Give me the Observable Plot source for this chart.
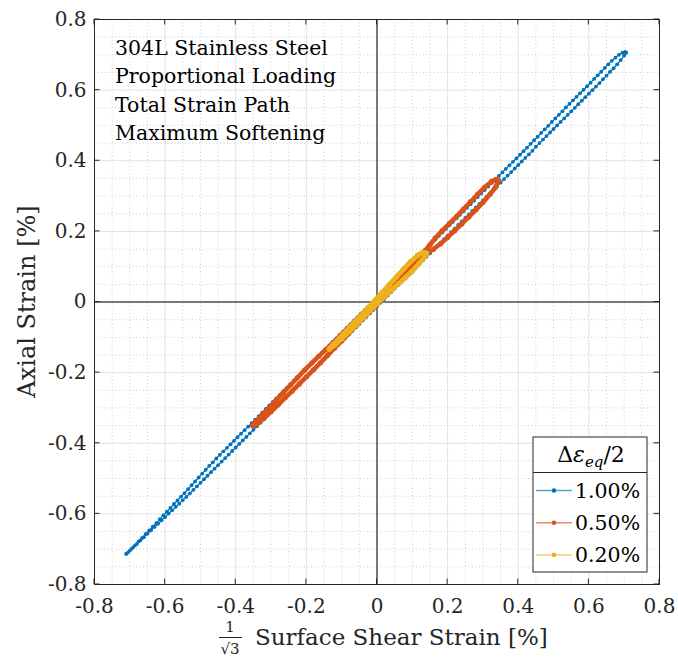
<!DOCTYPE html>
<html><head><meta charset="utf-8">
<script src="https://cdn.jsdelivr.net/npm/d3@7"></script>
<script src="https://cdn.jsdelivr.net/npm/@observablehq/plot@0.6"></script>
<style>body{margin:0;background:#fff} svg{display:block}</style>
</head><body><div id="chart"></div>
<script>
// ---- data ----
const seriesLabels = ["1.00%", "0.50%", "0.20%"];
const seriesColors = ["#0072BD", "#D95319", "#EDB120"];

// Δε_eq/2 = 1.00 %  : [shear/√3 %, axial %]
const blueLoading = [[-0.71,-0.713],[-0.70,-0.704],[-0.69,-0.694],[-0.68,-0.685],[-0.67,-0.675],[-0.66,-0.666],[-0.65,-0.656],[-0.64,-0.647],[-0.63,-0.637],[-0.62,-0.628],[-0.61,-0.618],[-0.60,-0.609],[-0.59,-0.599],[-0.58,-0.590],[-0.57,-0.580],[-0.56,-0.571],[-0.55,-0.561],[-0.54,-0.552],[-0.53,-0.542],[-0.52,-0.532],[-0.51,-0.522],
[-0.50,-0.512],[-0.49,-0.502],[-0.48,-0.492],[-0.47,-0.482],[-0.46,-0.472],[-0.45,-0.462],[-0.44,-0.452],[-0.43,-0.442],[-0.42,-0.432],[-0.41,-0.422],
[-0.40,-0.412],[-0.39,-0.402],[-0.38,-0.392],[-0.37,-0.382],[-0.36,-0.372],[-0.35,-0.362],[-0.34,-0.352],[-0.33,-0.342],[-0.32,-0.332],[-0.31,-0.322],
[-0.30,-0.312],[-0.29,-0.302],[-0.28,-0.292],[-0.27,-0.282],[-0.26,-0.272],[-0.25,-0.262],[-0.24,-0.252],[-0.23,-0.242],[-0.22,-0.232],[-0.21,-0.222],
[-0.20,-0.212],[-0.19,-0.202],[-0.18,-0.192],[-0.17,-0.182],[-0.16,-0.172],[-0.15,-0.162],[-0.14,-0.152],[-0.13,-0.142],[-0.12,-0.132],[-0.11,-0.122],
[-0.10,-0.112],[-0.09,-0.102],[-0.08,-0.092],[-0.07,-0.082],[-0.06,-0.072],[-0.05,-0.062],[-0.04,-0.052],[-0.03,-0.042],[-0.02,-0.032],[-0.01,-0.022],
[0.00,-0.012],[0.01,-0.002],[0.02,0.008],[0.03,0.018],[0.04,0.028],[0.05,0.038],[0.06,0.048],[0.07,0.058],[0.08,0.068],[0.09,0.078],
[0.10,0.088],[0.11,0.098],[0.12,0.108],[0.13,0.118],[0.14,0.128],[0.15,0.138],[0.16,0.148],[0.17,0.158],[0.18,0.168],[0.19,0.178],
[0.20,0.188],[0.21,0.198],[0.22,0.208],[0.23,0.218],[0.24,0.228],[0.25,0.238],[0.26,0.248],[0.27,0.258],[0.28,0.268],[0.29,0.278],
[0.30,0.288],[0.31,0.298],[0.32,0.308],[0.33,0.318],[0.34,0.328],[0.35,0.338],[0.36,0.348],[0.37,0.358],[0.38,0.368],[0.39,0.378],
[0.40,0.388],[0.41,0.398],[0.42,0.408],[0.43,0.418],[0.44,0.428],[0.45,0.440],[0.46,0.450],[0.47,0.460],[0.48,0.470],[0.49,0.480],
[0.50,0.490],[0.51,0.500],[0.52,0.510],[0.53,0.520],[0.54,0.530],[0.55,0.540],[0.56,0.550],[0.57,0.560],[0.58,0.570],[0.59,0.580],
[0.60,0.590],[0.61,0.600],[0.62,0.610],[0.63,0.620],[0.64,0.631],[0.65,0.641],[0.66,0.652],[0.67,0.662],[0.68,0.673],[0.69,0.685],
[0.70,0.698],[0.706,0.706]];
const blueUnloading = [[0.703,0.708],[0.695,0.706],[0.685,0.700],[0.675,0.692],[0.665,0.683],[0.655,0.673],[0.645,0.663],[0.635,0.652],[0.625,0.642],[0.615,0.632],
[0.605,0.621],[0.595,0.611],[0.585,0.601],[0.575,0.591],[0.565,0.581],[0.555,0.571],[0.545,0.561],[0.535,0.551],[0.525,0.540],[0.515,0.530],
[0.505,0.520],[0.495,0.510],[0.485,0.499],[0.475,0.489],[0.465,0.479],[0.455,0.468],[0.445,0.458],[0.435,0.448],[0.425,0.437],[0.415,0.427],
[0.405,0.417],[0.395,0.407],[0.385,0.397],[0.375,0.387],[0.365,0.377],[0.355,0.367],[0.345,0.357],[0.335,0.347],[0.325,0.337],[0.315,0.327],
[0.305,0.317],[0.295,0.307],[0.285,0.297],[0.275,0.287],[0.265,0.277],[0.255,0.267],[0.245,0.257],[0.235,0.247],[0.225,0.237],[0.215,0.227],
[0.205,0.217],[0.195,0.207],[0.185,0.197],[0.175,0.187],[0.165,0.177],[0.155,0.167],[0.145,0.157],[0.135,0.147],[0.125,0.137],[0.115,0.127],
[0.105,0.117],[0.095,0.107],[0.085,0.097],[0.075,0.087],[0.065,0.077],[0.055,0.067],[0.045,0.057],[0.035,0.047],[0.025,0.037],[0.015,0.027],
[0.005,0.017],[-0.005,0.007],[-0.015,-0.003],[-0.025,-0.013],[-0.035,-0.023],[-0.045,-0.033],[-0.055,-0.043],[-0.065,-0.053],[-0.075,-0.063],[-0.085,-0.073],
[-0.095,-0.083],[-0.105,-0.093],[-0.115,-0.103],[-0.125,-0.113],[-0.135,-0.123],[-0.145,-0.133],[-0.155,-0.143],[-0.165,-0.153],[-0.175,-0.163],[-0.185,-0.173],
[-0.195,-0.183],[-0.205,-0.193],[-0.215,-0.203],[-0.225,-0.213],[-0.235,-0.223],[-0.245,-0.233],[-0.255,-0.243],[-0.265,-0.253],[-0.275,-0.263],[-0.285,-0.273],
[-0.295,-0.283],[-0.305,-0.293],[-0.315,-0.303],[-0.325,-0.313],[-0.335,-0.323],[-0.345,-0.333],[-0.355,-0.343],[-0.365,-0.353],[-0.375,-0.363],[-0.385,-0.373],
[-0.395,-0.383],[-0.405,-0.393],[-0.415,-0.403],[-0.425,-0.413],[-0.435,-0.423],[-0.445,-0.433],[-0.455,-0.443],[-0.465,-0.454],[-0.475,-0.464],[-0.485,-0.475],
[-0.495,-0.486],[-0.505,-0.497],[-0.515,-0.508],[-0.525,-0.519],[-0.535,-0.530],[-0.545,-0.541],[-0.555,-0.551],[-0.565,-0.562],[-0.575,-0.572],[-0.585,-0.583],
[-0.595,-0.594],[-0.605,-0.604],[-0.615,-0.615],[-0.625,-0.626],[-0.635,-0.636],[-0.645,-0.647],[-0.655,-0.657],[-0.665,-0.668],[-0.675,-0.678],[-0.685,-0.689],
[-0.695,-0.699],[-0.705,-0.709],[-0.71,-0.713]];

// Δε_eq/2 = 0.50 %
const redLoading = [[-0.352,-0.350],[-0.340,-0.346],[-0.320,-0.329],[-0.300,-0.310],[-0.280,-0.291],[-0.260,-0.271],[-0.240,-0.252],[-0.220,-0.232],[-0.200,-0.212],[-0.180,-0.192],
[-0.160,-0.172],[-0.140,-0.151],[-0.120,-0.130],[-0.100,-0.110],[-0.080,-0.089],[-0.060,-0.068],[-0.040,-0.047],[-0.020,-0.027],[0.000,-0.007],[0.020,0.013],
[0.040,0.033],[0.060,0.053],[0.080,0.073],[0.100,0.094],[0.120,0.115],[0.140,0.137],[0.160,0.150],[0.180,0.165],[0.200,0.183],[0.220,0.202],
[0.240,0.221],[0.260,0.241],[0.280,0.261],[0.300,0.282],[0.320,0.305],[0.335,0.324],[0.345,0.344]];
const redUnloading = [[0.338,0.347],[0.325,0.342],[0.305,0.325],[0.285,0.305],[0.265,0.284],[0.245,0.263],[0.225,0.242],[0.205,0.222],[0.185,0.202],[0.165,0.181],
[0.150,0.162],[0.135,0.144],[0.115,0.123],[0.095,0.103],[0.075,0.083],[0.055,0.063],[0.035,0.043],[0.015,0.023],[-0.005,0.003],[-0.025,-0.017],
[-0.045,-0.036],[-0.065,-0.056],[-0.085,-0.076],[-0.105,-0.096],[-0.125,-0.116],[-0.145,-0.135],[-0.165,-0.154],[-0.185,-0.173],[-0.205,-0.193],[-0.225,-0.214],
[-0.245,-0.235],[-0.265,-0.256],[-0.285,-0.277],[-0.305,-0.298],[-0.325,-0.319],[-0.345,-0.341],[-0.352,-0.350]];

// Δε_eq/2 = 0.20 %
const yellowLoading = [[-0.135,-0.133],[-0.120,-0.122],[-0.100,-0.104],[-0.080,-0.085],[-0.060,-0.065],[-0.040,-0.045],[-0.020,-0.025],[0.000,-0.005],
[0.020,0.014],[0.040,0.033],[0.060,0.051],[0.080,0.069],[0.100,0.088],[0.120,0.110],[0.135,0.128],[0.140,0.138]];
const yellowUnloading = [[0.130,0.141],[0.115,0.132],[0.095,0.114],[0.075,0.093],[0.055,0.071],[0.035,0.049],[0.015,0.027],[-0.005,0.005],
[-0.025,-0.017],[-0.045,-0.038],[-0.065,-0.059],[-0.085,-0.080],[-0.105,-0.101],[-0.125,-0.122],[-0.135,-0.133]];

const tickValues = [-0.8,-0.6,-0.4,-0.2,0,0.2,0.4,0.6,0.8];
const tickLabels = ["-0.8","-0.6","-0.4","-0.2","0","0.2","0.4","0.6","0.8"];
const noteLines = ["304L Stainless Steel","Proportional Loading","Total Strain Path","Maximum Softening"];
const xLabel = "Surface Shear Strain [%]";
const yLabel = "Axial Strain [%]";

// ---- build ----
const minorTicks = d3.range(-16, 17).map(i => i / 20).filter(v => Math.abs(v * 5 - Math.round(v * 5)) > 1e-9);
const rows = (...branches) => branches.flat().map(([x, y]) => ({x, y}));
const series = [rows(blueLoading, blueUnloading), rows(redLoading, redUnloading), rows(yellowLoading, yellowUnloading)];
const lineW = [1.2, 4.6, 5];
const dotR = [1.9, 2.6, 2.7];
const fmt = d => tickLabels[tickValues.findIndex(v => Math.abs(v - d) < 1e-9)];
const FONT = "DejaVu Serif";
const INK = "#262626";

const marks = [
  Plot.ruleX(minorTicks, {stroke: "#cfcfcf", strokeDasharray: "1,2.5"}),
  Plot.ruleY(minorTicks, {stroke: "#cfcfcf", strokeDasharray: "1,2.5"}),
  Plot.ruleX(tickValues, {stroke: "#e2e2e2"}),
  Plot.ruleY(tickValues, {stroke: "#e2e2e2"}),
  Plot.ruleX([0], {stroke: "#000"}),
  Plot.ruleY([0], {stroke: "#000"})
];
series.forEach((d, i) => {
  marks.push(Plot.line(d, {x: "x", y: "y", stroke: seriesColors[i], strokeWidth: lineW[i], strokeLinejoin: "round"}));
  marks.push(Plot.dot(d, {x: "x", y: "y", r: dotR[i], fill: seriesColors[i], stroke: "none"}));
});
marks.push(
  Plot.axisX(tickValues, {tickSize: 0, tickPadding: 14, tickFormat: fmt, fontSize: 20, label: null, fill: INK}),
  Plot.axisY(tickValues, {tickSize: 0, tickPadding: 8, tickFormat: fmt, fontSize: 20, label: null, fill: INK}),
  Plot.frame({stroke: INK})
);

const chart = Plot.plot({
  width: 678, height: 662,
  marginLeft: 94, marginRight: 19, marginTop: 19, marginBottom: 78,
  style: {fontFamily: FONT, fontSize: "20px", background: "#fff", color: INK},
  x: {domain: [-0.8, 0.8]},
  y: {domain: [-0.8, 0.8]},
  marks
});
document.getElementById("chart").appendChild(chart);

const sx = v => chart.scale("x").apply(v);
const sy = v => chart.scale("y").apply(v);
const svg = d3.select(chart);
const x0 = sx(-0.8), x1 = sx(0.8), y0 = sy(-0.8), y1 = sy(0.8);

// inward ticks on all four sides
const tk = svg.append("g").attr("stroke", INK).attr("stroke-width", 1);
tickValues.forEach(v => {
  tk.append("line").attr("x1", sx(v)).attr("x2", sx(v)).attr("y1", y0).attr("y2", y0 - 5.5);
  tk.append("line").attr("x1", sx(v)).attr("x2", sx(v)).attr("y1", y1).attr("y2", y1 + 5.5);
  tk.append("line").attr("y1", sy(v)).attr("y2", sy(v)).attr("x1", x0).attr("x2", x0 + 5.5);
  tk.append("line").attr("y1", sy(v)).attr("y2", sy(v)).attr("x1", x1).attr("x2", x1 - 5.5);
});

// annotation
const note = svg.append("g").attr("font-family", FONT).attr("font-size", 20.5).attr("fill", "#000").attr("text-anchor", "start");
noteLines.forEach((t, i) => note.append("text").attr("x", x0 + 21).attr("y", y1 + 36 + i * 28.4).text(t));

// y label
svg.append("text").attr("font-family", FONT).attr("font-size", 24).attr("fill", INK)
  .attr("text-anchor", "middle")
  .attr("transform", `translate(35,${(y0 + y1) / 2}) rotate(-90)`).text(yLabel);

// x label with 1/√3 fraction
const xl = svg.append("g").attr("font-family", FONT).attr("fill", INK);
xl.append("text").attr("x", 230).attr("y", 632).attr("font-size", 15).attr("text-anchor", "middle").text("1");
xl.append("line").attr("x1", 219).attr("x2", 242).attr("y1", 637.5).attr("y2", 637.5).attr("stroke", INK).attr("stroke-width", 1);
xl.append("text").attr("x", 230).attr("y", 654).attr("font-size", 15).attr("text-anchor", "middle").text("√3");
xl.append("text").attr("x", 255).attr("y", 645).attr("font-size", 23).attr("text-anchor", "start").text(xLabel);

// legend
const lg = svg.append("g").attr("font-family", FONT);
const L = {x: 533, y: 437, w: 114, h: 135};
lg.append("rect").attr("x", L.x).attr("y", L.y).attr("width", L.w).attr("height", L.h)
  .attr("fill", "#fff").attr("stroke", INK).attr("stroke-width", 1);
lg.append("line").attr("x1", L.x).attr("x2", L.x + L.w).attr("y1", 472.5).attr("y2", 472.5).attr("stroke", INK);
const title = lg.append("text").attr("x", 591).attr("y", 462).attr("text-anchor", "middle").attr("font-size", 22).attr("fill", "#000");
title.append("tspan").text("Δ");
title.append("tspan").attr("font-style", "italic").text("ε");
title.append("tspan").attr("font-style", "italic").attr("font-size", 15).attr("dy", 5).text("eq");
title.append("tspan").attr("dy", -5).text("/2");
seriesLabels.forEach((lab, i) => {
  const yy = 490.5 + i * 32.2;
  lg.append("line").attr("x1", 536).attr("x2", 572).attr("y1", yy).attr("y2", yy)
    .attr("stroke", seriesColors[i]).attr("stroke-width", 1.5).attr("stroke-opacity", 0.65);
  lg.append("circle").attr("cx", 554).attr("cy", yy).attr("r", 2.3).attr("fill", seriesColors[i]);
  lg.append("text").attr("x", 575).attr("y", yy + 7.5).attr("font-size", 20.5).attr("fill", "#000").attr("text-anchor", "start").text(lab);
});
</script></body></html>
